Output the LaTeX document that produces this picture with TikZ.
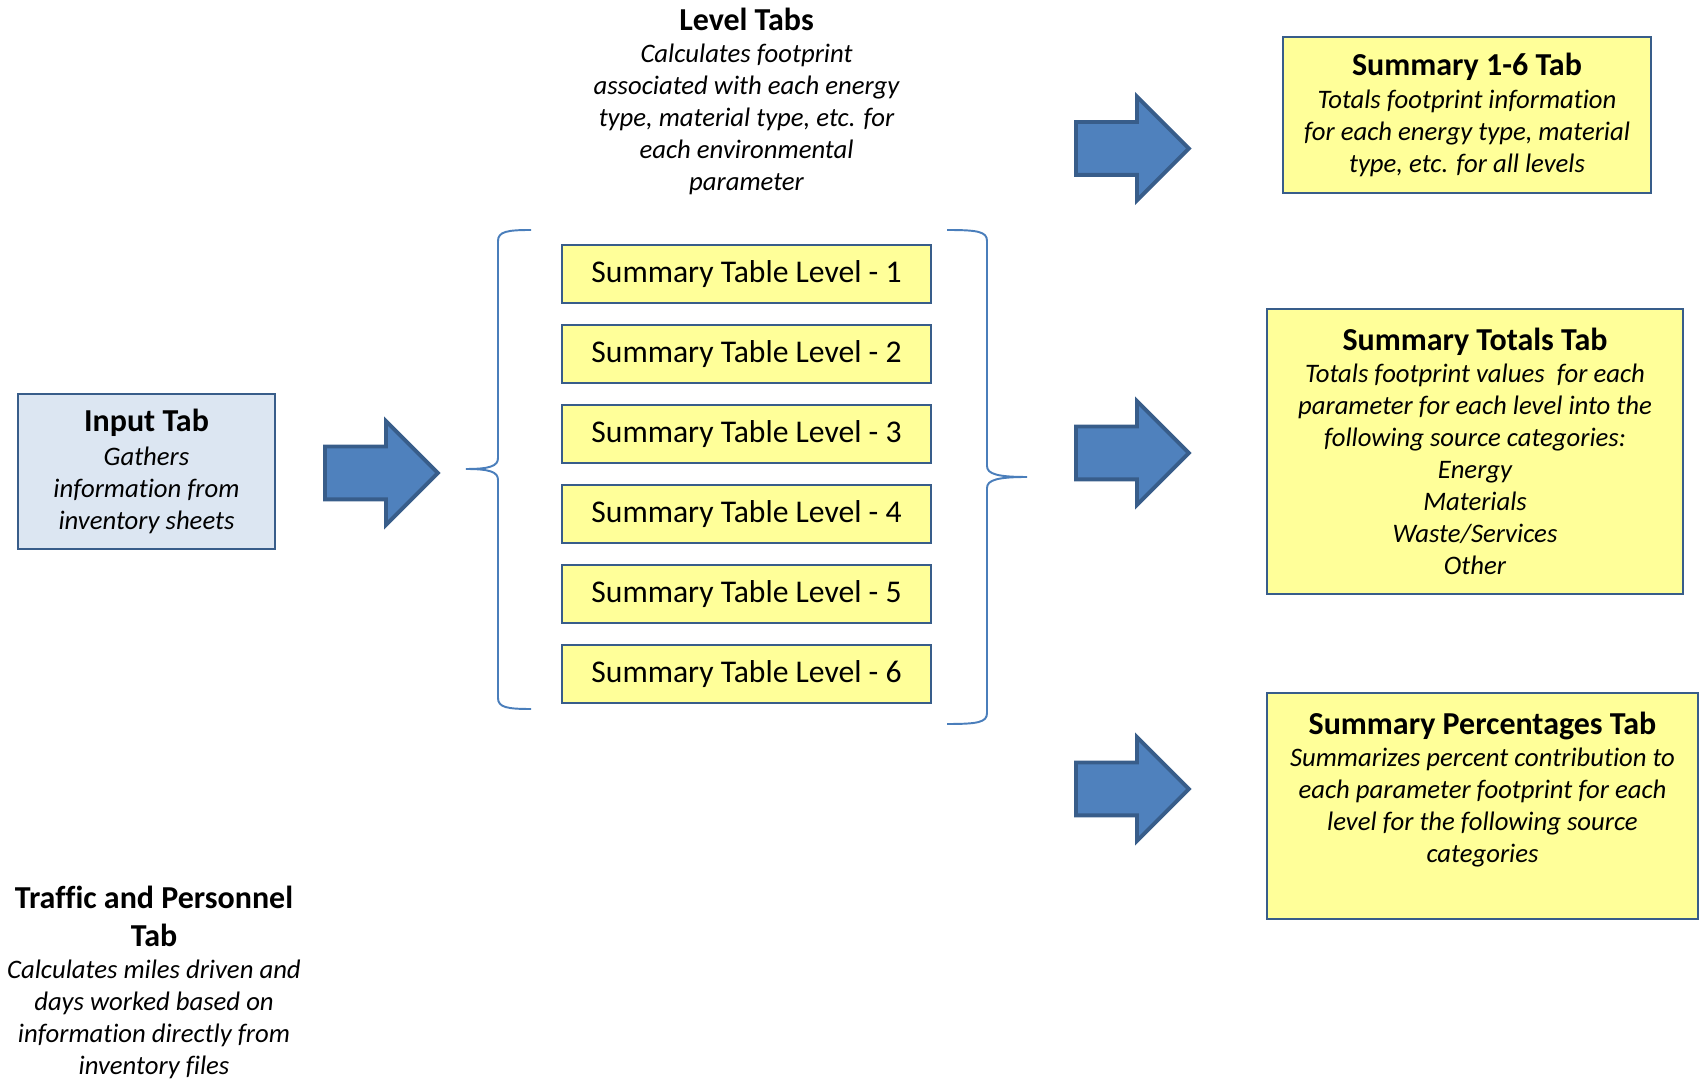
\documentclass[tikz,border=0pt]{standalone}
\usepackage{fontspec}
\setmainfont{Carlito}[Ligatures=NoCommon]
\usepackage{xcolor}
\usepackage{tikz}
\usetikzlibrary{shapes.arrows, positioning}

\definecolor{tabyellow}{RGB}{255,255,153}
\definecolor{inputblue}{RGB}{220,230,242}
\definecolor{boxline}{RGB}{56,93,138}
\definecolor{arrowblue}{RGB}{79,129,189}
\definecolor{bracelight}{RGB}{74,126,187}

\newcommand{\tabtitle}[1]{{\normalfont\bfseries\fontsize{18.2}{21.5}\selectfont #1}}

\begin{document}
\begin{tikzpicture}[
    tabbox/.style={rectangle,draw=boxline,line width=1.1pt,fill=tabyellow,align=center,font=\fontsize{15.2}{18.2}\selectfont\itshape},
    levelbox/.style={rectangle,draw=boxline,line width=1.1pt,fill=tabyellow,minimum width=7.38cm,minimum height=1.16cm,font=\fontsize{18}{21}\selectfont},
    plaintext/.style={align=center,inner sep=0pt,font=\fontsize{15.2}{18.2}\selectfont\itshape},
    flowarrow/.style={single arrow,draw=boxline,line width=2.2pt,fill=arrowblue,inner xsep=0pt,inner ysep=0.49cm,minimum height=2.26cm,single arrow head extend=0.51cm,single arrow tip angle=90},
    bracket/.style={draw=bracelight,line width=1.1pt}]
    \useasboundingbox (0,0) rectangle (33.98,21.62);

    \node[tabbox,fill=inputblue,minimum width=5.14cm,minimum height=3.10cm] (input) at (2.93,12.19) {\tabtitle{Input Tab}\\[1pt]Gathers\\information from\\inventory sheets};
    \node[plaintext,anchor=north] (traffic) at (3.08,3.90) {\tabtitle{Traffic and Personnel}\\[3.5pt]\tabtitle{Tab}\\Calculates miles driven and\\days worked based on\\information directly from\\inventory files};
    \node[flowarrow,anchor=tail] (arrowin) at (6.46,12.16) {};

    \node[plaintext,anchor=north] (leveltabs) at (14.93,21.46) {\tabtitle{Level Tabs}\\Calculates footprint\\associated with each energy\\type, material type, etc. for\\each environmental\\parameter};
    \node[levelbox] (level1) at (14.93,16.14) {Summary Table Level - 1};
    \node[levelbox] (level2) at (14.93,14.54) {Summary Table Level - 2};
    \node[levelbox] (level3) at (14.93,12.94) {Summary Table Level - 3};
    \node[levelbox] (level4) at (14.93,11.34) {Summary Table Level - 4};
    \node[levelbox] (level5) at (14.93,9.74) {Summary Table Level - 5};
    \node[levelbox] (level6) at (14.93,8.14) {Summary Table Level - 6};

    \draw[bracket] (10.62,17.02) .. controls (10.15,17.02) and (9.96,16.99) .. (9.96,16.80) -- (9.96,12.46) .. controls (9.96,12.30) and (9.80,12.24) .. (9.32,12.24) .. controls (9.80,12.24) and (9.96,12.18) .. (9.96,12.02) -- (9.96,7.66) .. controls (9.96,7.47) and (10.15,7.44) .. (10.62,7.44);
    \draw[bracket] (18.94,17.02) .. controls (19.55,17.02) and (19.74,16.99) .. (19.74,16.80) -- (19.74,12.30) .. controls (19.74,12.14) and (19.95,12.08) .. (20.54,12.08) .. controls (19.95,12.08) and (19.74,12.02) .. (19.74,11.86) -- (19.74,7.36) .. controls (19.74,7.17) and (19.55,7.14) .. (18.94,7.14);

    \node[flowarrow,anchor=tail] (arrowsum) at (21.48,18.65) {};
    \node[flowarrow,anchor=tail] (arrowtot) at (21.48,12.56) {};
    \node[flowarrow,anchor=tail] (arrowpct) at (21.48,5.84) {};

    \node[tabbox,minimum width=7.36cm,minimum height=3.12cm] (sumtab) at (29.34,19.32) {\tabtitle{Summary 1-6 Tab}\\[1pt]Totals footprint information\\for each energy type, material\\type, etc. for all levels};
    \node[tabbox,minimum width=8.32cm,minimum height=5.70cm] (tottab) at (29.50,12.59) {\tabtitle{Summary Totals Tab}\\Totals footprint values \ for each\\parameter for each level into the\\following source categories:\\Energy\\Materials\\Waste/Services\\Other};
    \node[tabbox,minimum width=8.62cm,minimum height=4.52cm] (pcttab) at (29.65,5.50) {};
    \node[plaintext,below=0.4cm of pcttab.north] (pcttext) {\tabtitle{Summary Percentages Tab}\\Summarizes percent contribution to\\each parameter footprint for each\\level for the following source\\categories};
\end{tikzpicture}
\end{document}
